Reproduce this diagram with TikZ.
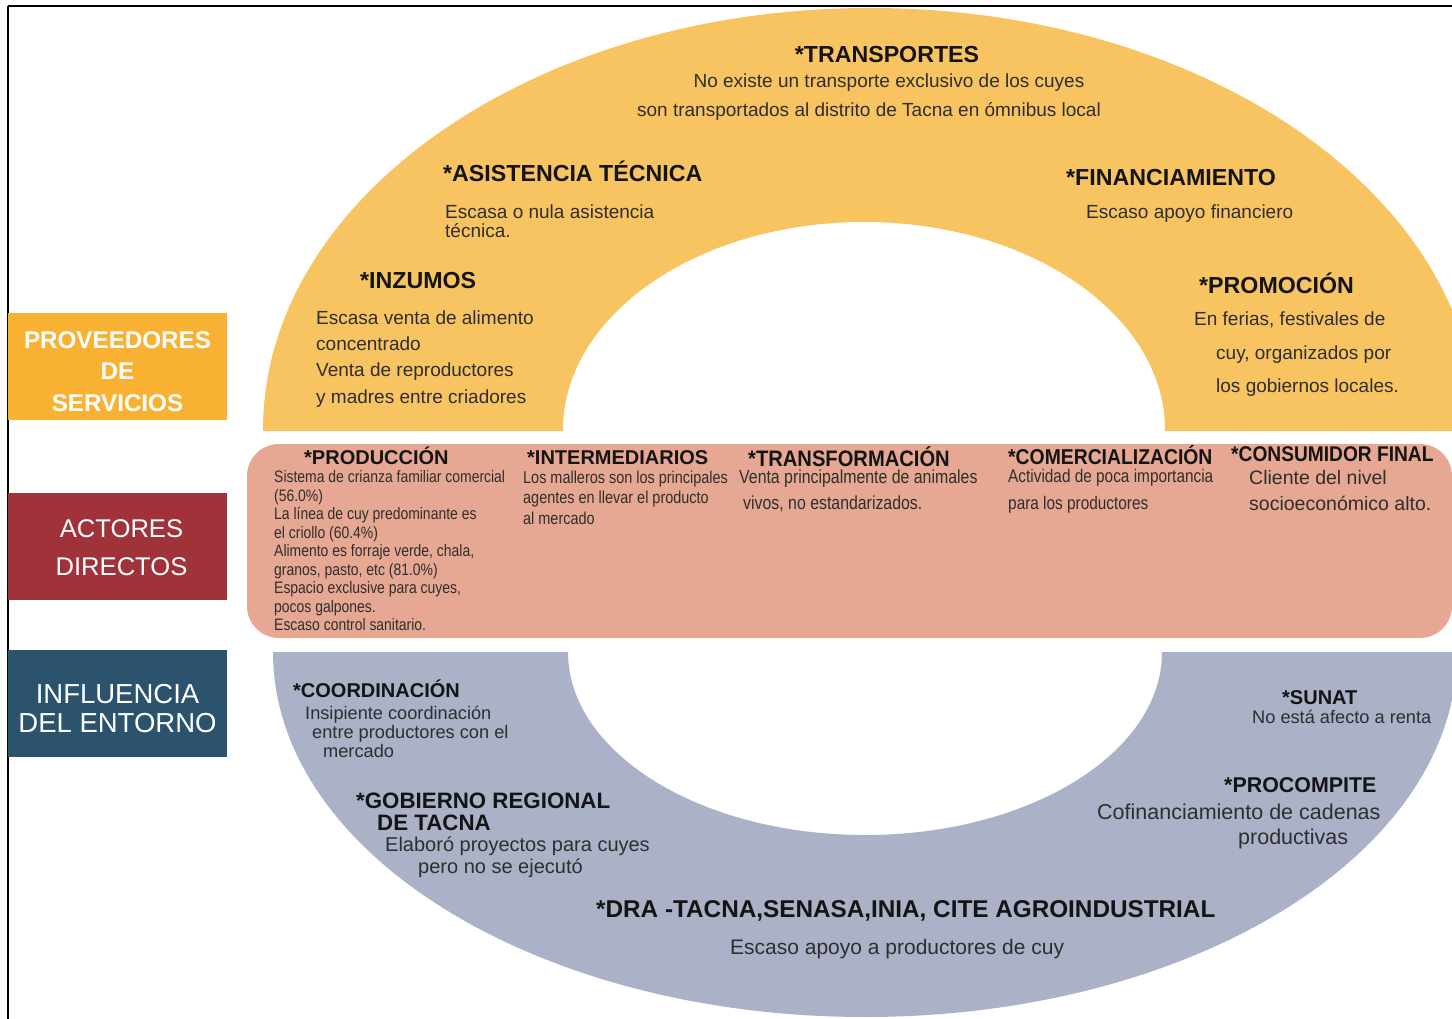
\documentclass[tikz,border=0pt]{standalone}
\usepackage{fontspec}
\setmainfont{Liberation Sans}
\newfontfamily\narrowsans[FakeStretch=0.84]{Liberation Sans}
\newfontfamily\semisans[FakeStretch=0.9]{Liberation Sans}

\definecolor{ink}{HTML}{141414}
\definecolor{inkb}{HTML}{2E2E2E}
\definecolor{ringorange}{HTML}{F8C462}
\definecolor{boxorange}{HTML}{F8B133}
\definecolor{bandpink}{HTML}{E6A893}
\definecolor{boxred}{HTML}{A0323A}
\definecolor{ringblue}{HTML}{ABB1C7}
\definecolor{boxblue}{HTML}{2C536E}

\tikzset{
  lbl/.style={inner sep=0pt, text depth=0pt, anchor=west},
  % regular, bold, narrow, narrow-bold; args: size, cap height (both pt)
  rs/.style 2 args={lbl, text=inkb, font=\fontsize{#1pt}{#1pt}\selectfont, text height=#2pt},
  bs/.style 2 args={lbl, text=ink, font=\fontsize{#1pt}{#1pt}\selectfont\bfseries, text height=#2pt},
  ns/.style 2 args={lbl, text=inkb, font=\fontsize{#1pt}{#1pt}\narrowsans, text height=#2pt},
  nbs/.style 2 args={lbl, text=ink, font=\fontsize{#1pt}{#1pt}\semisans\bfseries, text height=#2pt},
  hd/.style={bs={23.2}{16.6}},
  tx/.style={rs={19}{13.6}},
  phd/.style={bs={20}{14.3}},
  sidebox/.style={minimum width=219pt, minimum height=107pt, inner sep=0pt, draw=none},
  sidetext/.style={inner sep=0pt, align=center, text=white},
}

\begin{document}
\begin{tikzpicture}[x=1pt,y=-1pt]
\useasboundingbox (0,0) rectangle (1452,1019);
\fill[white] (0,0) rectangle (1452,1019);
\clip (0,0) rectangle (1452,1019);

% upper half ring: service providers
\begin{scope}
  \clip (0,0) rectangle (1452,430);
  \fill[ringorange, even odd rule]
    (870,430) ellipse [x radius=607, y radius=422]
    (864,430) ellipse [x radius=301, y radius=208];
\end{scope}

% middle band: direct actors
\fill[bandpink, rounded corners=32pt] (247,444) rectangle (1452,638);

% lower half ring: environment
\begin{scope}
  \clip (0,652) rectangle (1452,1019);
  \fill[ringblue, even odd rule]
    (865,652) ellipse [x radius=592, y radius=365]
    (865,652) ellipse [x radius=297, y radius=183];
\end{scope}

% frame
\draw[line width=2pt] (8,6) -- (1452,6);
\draw[line width=1.2pt] (8,6) -- (8,1019);

% left category boxes
\node[sidebox, fill=boxorange] (provee) at (117.5,366.5) {};
\node[sidetext, font=\fontsize{24.2}{31.5}\selectfont\bfseries] (proveeT) at (117.5,371.5)
  {PROVEEDORES\\DE\\SERVICIOS};
\node[sidebox, fill=boxred] (actores) at (117.5,546.5) {};
\node[sidetext, font=\fontsize{25.6}{38}\selectfont] (actoresT) at (121.5,548)
  {ACTORES\\DIRECTOS};
\node[sidebox, fill=boxblue] (influ) at (117.5,703.5) {};
\node[sidetext, font=\fontsize{27.5}{29}\selectfont] (influT) at (117.5,708.5)
  {INFLUENCIA\\DEL ENTORNO};

% ---- providers of services
\node[hd, anchor=center] (trH) at (887,54) {*TRANSPORTES};
\node[tx, anchor=center] (tr1) at (889,81) {No existe un transporte exclusivo de los cuyes};
\node[tx, anchor=center] (tr2) at (869,110) {son transportados al distrito de Tacna en ómnibus local};

\node[hd] (asH) at (443,173) {*ASISTENCIA TÉCNICA};
\node[tx] (as1) at (445,212) {Escasa o nula asistencia};
\node[tx] (as2) at (445,231) {técnica.};

\node[hd] (fiH) at (1066,177) {*FINANCIAMIENTO};
\node[tx] (fi1) at (1086,212) {Escaso apoyo financiero};

\node[hd] (inH) at (360,280) {*INZUMOS};
\node[tx] (in1) at (316,318) {Escasa venta de alimento};
\node[tx] (in2) at (316,344) {concentrado};
\node[tx] (in3) at (316,370) {Venta de reproductores};
\node[tx] (in4) at (316,397) {y madres entre criadores};

\node[hd] (prH) at (1199,285) {*PROMOCIÓN};
\node[tx] (pr1) at (1194,319) {En ferias, festivales de};
\node[tx] (pr2) at (1216,353) {cuy, organizados por};
\node[tx] (pr3) at (1216,386) {los gobiernos locales.};

% ---- direct actors
\node[phd] (poH) at (304,457) {*PRODUCCIÓN};
\node[ns={16.6}{11.9}] (po1) at (274,477) {Sistema de crianza familiar comercial};
\node[ns={16.6}{11.9}] (po2) at (274,495.5) {(56.0\%)};
\node[ns={16.6}{11.9}] (po3) at (274,514) {La línea de cuy predominante es};
\node[ns={16.6}{11.9}] (po4) at (274,532.5) {el criollo (60.4\%)};
\node[ns={16.6}{11.9}] (po5) at (274,551) {Alimento es forraje verde, chala,};
\node[ns={16.6}{11.9}] (po6) at (274,569.5) {granos, pasto, etc (81.0\%)};
\node[ns={16.6}{11.9}] (po7) at (274,588) {Espacio exclusive para cuyes,};
\node[ns={16.6}{11.9}] (po8) at (274,606.5) {pocos galpones.};
\node[ns={16.6}{11.9}] (po9) at (274,625) {Escaso control sanitario.};

\node[phd] (imH) at (527,457) {*INTERMEDIARIOS};
\node[ns={17.2}{12.3}] (im1) at (523,477) {Los malleros son los principales};
\node[ns={17.2}{12.3}] (im2) at (523,497.5) {agentes en llevar el producto};
\node[ns={17.2}{12.3}] (im3) at (523,518) {al mercado};

\node[nbs={22.4}{16}] (tfH) at (748,458) {*TRANSFORMACIÓN};
\node[ns={18.9}{13.5}] (tf1) at (739,477) {Venta principalmente de animales};
\node[ns={18.9}{13.5}] (tf2) at (743,503) {vivos, no estandarizados.};

\node[nbs={21.5}{15.4}] (coH) at (1008,457) {*COMERCIALIZACIÓN};
\node[ns={18.3}{13.1}] (co1) at (1008,476) {Actividad de poca importancia};
\node[ns={18.3}{13.1}] (co2) at (1008,503) {para los productores};

\node[nbs={21.3}{15.2}] (cfH) at (1231,454) {*CONSUMIDOR FINAL};
\node[rs={19.5}{14}] (cf1) at (1249,477) {Cliente del nivel};
\node[rs={19.5}{14}] (cf2) at (1249,503) {socioeconómico alto.};

% ---- environment
\node[phd] (cdH) at (293,690) {*COORDINACIÓN};
\node[rs={18.2}{13}] (cd1) at (305,713) {Insipiente coordinación};
\node[rs={18.2}{13}] (cd2) at (312,732) {entre productores con el};
\node[rs={18.2}{13}] (cd3) at (323,751) {mercado};

\node[phd] (suH) at (1282,697) {*SUNAT};
\node[rs={18.2}{13}] (su1) at (1252,717) {No está afecto a renta};

\node[bs={22.3}{16}] (grH) at (356,800) {*GOBIERNO REGIONAL};
\node[bs={22.3}{16}] (grH2) at (377,822) {DE TACNA};
\node[rs={20}{14.3}] (gr1) at (385,844) {Elaboró proyectos para cuyes};
\node[rs={20}{14.3}] (gr2) at (418,866) {pero no se ejecutó};

\node[bs={21.4}{15.3}] (pcH) at (1224,785) {*PROCOMPITE};
\node[rs={21.5}{15.4}] (pc1) at (1097,812) {Cofinanciamiento de cadenas};
\node[rs={21.5}{15.4}] (pc2) at (1238,837) {productivas};

\node[bs={24.3}{17.4}] (drH) at (596,909) {*DRA -TACNA,SENASA,INIA, CITE AGROINDUSTRIAL};
\node[rs={21}{15}] (dr1) at (730,947) {Escaso apoyo a productores de cuy};
\end{tikzpicture}
\end{document}
